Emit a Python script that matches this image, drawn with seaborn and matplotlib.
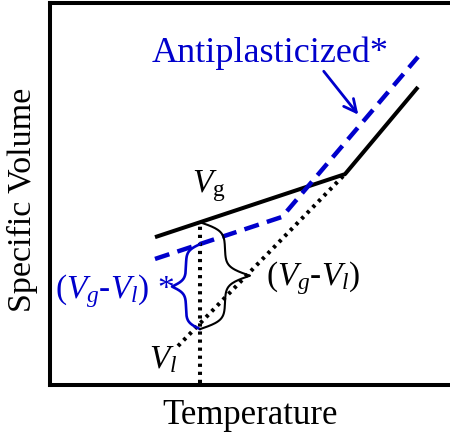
import numpy as np
import matplotlib
matplotlib.use("Agg")
import matplotlib.pyplot as plt
import seaborn as sns

# ---- data (conceptual units: Temperature 0-100, Specific Volume 0-100) ----
glass_T = [26.25, 73.75, 92.0]          # black solid (glass -> liquid)
glass_V = [38.7, 55.2, 78.0]
anti_T = [26.25, 58.0, 92.0]            # blue dashed (antiplasticized)
anti_V = [33.0, 44.0, 85.9]
liquid_T = [32.0, 73.75]                # black dotted (extrapolated liquid)
liquid_V = [10.2, 55.2]
T_ref = 37.5                            # temperature where gaps are measured

BLUE = "#0000cc"

sns.set_style("white")
plt.rcParams["font.family"] = ["Liberation Serif", "DejaVu Serif"]
plt.rcParams["mathtext.fontset"] = "custom"
plt.rcParams["mathtext.rm"] = "Liberation Serif"
plt.rcParams["mathtext.it"] = "Liberation Serif:italic"
plt.rcParams["text.color"] = "black"

fig = plt.figure(figsize=(4.5, 4.39), dpi=100)
ax = fig.add_axes([50 / 450, (439 - 386) / 439, 400 / 450, 382 / 439])
ax.set_xlim(0, 100)
ax.set_ylim(0, 100)

sns.lineplot(x=glass_T, y=glass_V, ax=ax, color="black", lw=2.9,
             estimator=None, sort=False, solid_capstyle="butt")
sns.lineplot(x=anti_T, y=anti_V, ax=ax, color=BLUE, lw=3.2,
             estimator=None, sort=False, linestyle=(0, (3.4, 1.9)),
             dash_capstyle="butt")
sns.lineplot(x=liquid_T, y=liquid_V, ax=ax, color="black", lw=2.9,
             estimator=None, sort=False, linestyle=(0, (0.8, 1.2)),
             dash_capstyle="butt")

vg = np.interp(T_ref, glass_T, glass_V)
va = np.interp(T_ref, anti_T, anti_V)
vl = np.interp(T_ref, liquid_T, liquid_V)

sns.lineplot(x=[T_ref, T_ref], y=[0.5, vg], ax=ax, color="black", lw=2.9,
             estimator=None, sort=False, linestyle=(0, (0.8, 1.2)),
             dash_capstyle="butt")


def brace(x, y0, y1, width, beta=25, n=201):
    s = np.linspace(0, 1, n)
    half = s[: n // 2 + 1]
    h = 1 / (1 + np.exp(-beta * (half - half[0]))) + \
        1 / (1 + np.exp(-beta * (half - half[-1])))
    h = np.concatenate((h, h[-2::-1])) - h[0]
    h = h / h.max()
    ys = y0 + (y1 - y0) * s
    xs = x + width * h
    return xs, ys


bx, by = brace(T_ref, va, vl - 1.5, -7.0)
ax.plot(bx, by, color=BLUE, lw=1.9)
kx, ky = brace(T_ref, vg, vl - 1.5, 12.5)
ax.plot(kx, ky, color="black", lw=1.5)

ax.annotate("", xy=(77.5, 70.2), xytext=(68.0, 82.7),
            arrowprops=dict(arrowstyle="->,head_length=0.9,head_width=0.45",
                            color=BLUE, lw=2.0))

ax.text(25.5, 84.8, "Antiplasticized*", color=BLUE, fontsize=26,
        ha="left", va="baseline")
ax.text(35.6, 50.8, r"$V_\mathrm{g}$", color="black", fontsize=24,
        ha="left", va="baseline")
ax.text(54.0, 26.5, r"$\mathit{(V_g}$-$\mathit{V_l)}$", color="black",
        fontsize=24, ha="left", va="baseline")
ax.text(1.2, 23.0, r"$\mathit{(V_g}$-$\mathit{V_l)}$ *", color=BLUE,
        fontsize=24, ha="left", va="baseline")
ax.text(24.8, 4.7, r"$V_l$", color="black", fontsize=24,
        ha="left", va="baseline")

fig.text(250 / 450, 1 - 424 / 439, "Temperature", fontsize=25,
         ha="center", va="baseline", color="black")
fig.text(22 / 450, 1 - 200 / 439, "Specific Volume", fontsize=24.5,
         ha="center", va="center", rotation=90, color="black")

ax.set_xticks([])
ax.set_yticks([])
for side in ["left", "top", "bottom"]:
    ax.spines[side].set_visible(True)
    ax.spines[side].set_linewidth(2.9)
    ax.spines[side].set_color("black")
ax.spines["right"].set_visible(False)
ax.set_facecolor("white")

fig.savefig("out.png", dpi=100, facecolor="white")
